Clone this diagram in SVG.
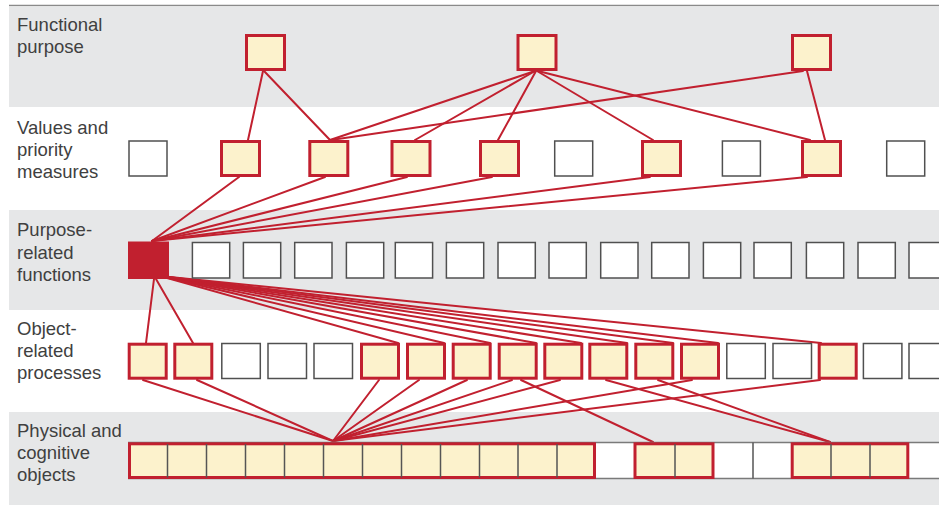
<svg xmlns="http://www.w3.org/2000/svg" width="939" height="505" viewBox="0 0 939 505">
  <style>
    .band { fill: #e6e7e8; }
    .lbl { font-family: "Liberation Sans", Arial, sans-serif; font-size: 18.5px; fill: #404040; }
    .y { fill: #fcf2cc; stroke: #c1202f; stroke-width: 3; }
    .w { fill: #ffffff; stroke: #505050; stroke-width: 1.5; }
    .div { stroke: #555555; stroke-width: 1.5; }
    .c line { stroke: #c1202f; stroke-width: 2; stroke-linecap: round; }
  </style>

  <!-- level bands -->
  <g id="bands">
    <line x1="9" y1="5.5" x2="939" y2="5.5" stroke="#8a8a8a" stroke-width="1.5"/>
    <rect class="band" x="9" y="6.5" width="930" height="100.5"/>
    <rect class="band" x="9" y="210" width="930" height="100"/>
    <rect class="band" x="9" y="412" width="930" height="93"/>
  </g>

  <!-- level labels -->
  <g id="labels">
    <text class="lbl" x="17" y="30.5">Functional</text>
    <text class="lbl" x="17" y="52.5">purpose</text>
    <text class="lbl" x="17" y="133.5">Values and</text>
    <text class="lbl" x="17" y="155.5">priority</text>
    <text class="lbl" x="17" y="177.5">measures</text>
    <text class="lbl" x="17" y="236">Purpose-</text>
    <text class="lbl" x="17" y="258.5">related</text>
    <text class="lbl" x="17" y="281">functions</text>
    <text class="lbl" x="17" y="335">Object-</text>
    <text class="lbl" x="17" y="357">related</text>
    <text class="lbl" x="17" y="379">processes</text>
    <text class="lbl" x="17" y="436.5">Physical and</text>
    <text class="lbl" x="17" y="458.5">cognitive</text>
    <text class="lbl" x="17" y="480.5">objects</text>
  </g>

  <!-- connectors between levels -->
  <g id="connectors" class="c">
    <!-- functional purpose to values -->
    <line x1="263" y1="71" x2="248" y2="140"/>
    <line x1="264" y1="71" x2="330" y2="140"/>
    <line x1="535" y1="71" x2="330" y2="140"/>
    <line x1="535" y1="71" x2="415" y2="140"/>
    <line x1="536" y1="71" x2="498" y2="140"/>
    <line x1="537" y1="71" x2="653" y2="140"/>
    <line x1="538" y1="71" x2="810" y2="140"/>
    <line x1="803" y1="71" x2="331" y2="140"/>
    <line x1="807" y1="71" x2="825" y2="140"/>
    <!-- values to purpose-related function -->
    <line x1="239" y1="177" x2="152" y2="241"/>
    <line x1="325" y1="177" x2="152" y2="241"/>
    <line x1="407" y1="177" x2="152" y2="241"/>
    <line x1="492" y1="177" x2="152" y2="241"/>
    <line x1="650" y1="177" x2="152" y2="241"/>
    <line x1="807" y1="177" x2="152" y2="241"/>
    <!-- purpose-related function to processes -->
    <line x1="154" y1="279" x2="146" y2="343"/>
    <line x1="156" y1="279" x2="193" y2="343"/>
    <line x1="160" y1="276" x2="398" y2="343"/>
    <line x1="160" y1="276" x2="444" y2="343"/>
    <line x1="160" y1="276" x2="490" y2="343"/>
    <line x1="160" y1="276" x2="536" y2="343"/>
    <line x1="160" y1="276" x2="581" y2="343"/>
    <line x1="160" y1="276" x2="627" y2="343"/>
    <line x1="160" y1="276" x2="673" y2="343"/>
    <line x1="160" y1="276" x2="718" y2="343"/>
    <line x1="160" y1="276" x2="821" y2="343"/>
    <!-- processes to objects -->
    <line x1="143" y1="380" x2="333" y2="441"/>
    <line x1="197" y1="380" x2="333" y2="441"/>
    <line x1="379" y1="380" x2="333" y2="441"/>
    <line x1="419" y1="380" x2="333" y2="441"/>
    <line x1="467" y1="380" x2="333" y2="441"/>
    <line x1="512" y1="380" x2="333" y2="441"/>
    <line x1="521" y1="380" x2="653" y2="442"/>
    <line x1="560" y1="380" x2="333" y2="441"/>
    <line x1="606" y1="380" x2="830" y2="442"/>
    <line x1="658" y1="380" x2="830" y2="442"/>
    <line x1="692" y1="380" x2="333" y2="441"/>
    <line x1="820" y1="380" x2="333" y2="441"/>
  </g>

  <!-- functional purpose -->
  <g id="fp-1"><rect class="y" x="246.5" y="35.5" width="38" height="34"/></g>
  <g id="fp-2"><rect class="y" x="518" y="35.5" width="38" height="34"/></g>
  <g id="fp-3"><rect class="y" x="792.5" y="35.5" width="38" height="34"/></g>

  <!-- values and priority measures -->
  <g id="vp-1"><rect class="w" x="129" y="141" width="38" height="35"/></g>
  <g id="vp-2"><rect class="y" x="221.5" y="141.5" width="38" height="34"/></g>
  <g id="vp-3"><rect class="y" x="309.8" y="141.5" width="38" height="34"/></g>
  <g id="vp-4"><rect class="y" x="392" y="141.5" width="38" height="34"/></g>
  <g id="vp-5"><rect class="y" x="480.5" y="141.5" width="38" height="34"/></g>
  <g id="vp-6"><rect class="w" x="554.7" y="141" width="38" height="35"/></g>
  <g id="vp-7"><rect class="y" x="642.5" y="141.5" width="38" height="34"/></g>
  <g id="vp-8"><rect class="w" x="722.4" y="141" width="38" height="35"/></g>
  <g id="vp-9"><rect class="y" x="802.5" y="141.5" width="38" height="34"/></g>
  <g id="vp-10"><rect class="w" x="886.7" y="141" width="38" height="35"/></g>

  <!-- purpose-related functions -->
  <g id="pf-1"><rect x="128" y="241.5" width="41" height="37.5" fill="#c1202f"/></g>
  <g id="pf-2"><rect class="w" x="192.4" y="242.5" width="37.3" height="35.5"/></g>
  <g id="pf-3"><rect class="w" x="243.4" y="242.5" width="37.3" height="35.5"/></g>
  <g id="pf-4"><rect class="w" x="294.7" y="242.5" width="37.3" height="35.5"/></g>
  <g id="pf-5"><rect class="w" x="346.4" y="242.5" width="37.3" height="35.5"/></g>
  <g id="pf-6"><rect class="w" x="395.3" y="242.5" width="37.3" height="35.5"/></g>
  <g id="pf-7"><rect class="w" x="446.4" y="242.5" width="37.3" height="35.5"/></g>
  <g id="pf-8"><rect class="w" x="498" y="242.5" width="37.3" height="35.5"/></g>
  <g id="pf-9"><rect class="w" x="549" y="242.5" width="37.3" height="35.5"/></g>
  <g id="pf-10"><rect class="w" x="600.7" y="242.5" width="37.3" height="35.5"/></g>
  <g id="pf-11"><rect class="w" x="651.7" y="242.5" width="37.3" height="35.5"/></g>
  <g id="pf-12"><rect class="w" x="703.4" y="242.5" width="37.3" height="35.5"/></g>
  <g id="pf-13"><rect class="w" x="754" y="242.5" width="37.3" height="35.5"/></g>
  <g id="pf-14"><rect class="w" x="806.4" y="242.5" width="37.3" height="35.5"/></g>
  <g id="pf-15"><rect class="w" x="858" y="242.5" width="37.3" height="35.5"/></g>
  <g id="pf-16"><rect class="w" x="909" y="242.5" width="37.3" height="35.5"/></g>

  <!-- object-related processes -->
  <g id="op-1"><rect class="y" x="129.2" y="344.2" width="37" height="34"/></g>
  <g id="op-2"><rect class="y" x="174.8" y="344.2" width="37" height="34"/></g>
  <g id="op-3"><rect class="w" x="221.8" y="343.5" width="38.5" height="35"/></g>
  <g id="op-4"><rect class="w" x="268" y="343.5" width="38.5" height="35"/></g>
  <g id="op-5"><rect class="w" x="314" y="343.5" width="38.5" height="35"/></g>
  <g id="op-6"><rect class="y" x="361.5" y="344.2" width="37" height="34"/></g>
  <g id="op-7"><rect class="y" x="407.5" y="344.2" width="37" height="34"/></g>
  <g id="op-8"><rect class="y" x="453.2" y="344.2" width="37" height="34"/></g>
  <g id="op-9"><rect class="y" x="499.2" y="344.2" width="37" height="34"/></g>
  <g id="op-10"><rect class="y" x="544.8" y="344.2" width="37" height="34"/></g>
  <g id="op-11"><rect class="y" x="589.8" y="344.2" width="37" height="34"/></g>
  <g id="op-12"><rect class="y" x="635.8" y="344.2" width="37" height="34"/></g>
  <g id="op-13"><rect class="y" x="681.5" y="344.2" width="37" height="34"/></g>
  <g id="op-14"><rect class="w" x="726.8" y="343.5" width="38.5" height="35"/></g>
  <g id="op-15"><rect class="w" x="773" y="343.5" width="38.5" height="35"/></g>
  <g id="op-16"><rect class="y" x="819.2" y="344.2" width="37" height="34"/></g>
  <g id="op-17"><rect class="w" x="863.4" y="343.5" width="38.5" height="35"/></g>
  <g id="op-18"><rect class="w" x="909" y="343.5" width="38.5" height="35"/></g>

  <!-- physical and cognitive objects: one strip of cells -->
  <g id="objects-strip">
    <rect x="128" y="442.5" width="820" height="36" fill="#ffffff"/>
    <line x1="128" y1="442.5" x2="939" y2="442.5" stroke="#7a7a7a" stroke-width="1.5"/>
    <line x1="128" y1="478.5" x2="939" y2="478.5" stroke="#7a7a7a" stroke-width="1.5"/>
    <line class="div" x1="753" y1="442.5" x2="753" y2="478.5"/>
  </g>
  <g id="objects-a">
    <rect class="y" x="129.5" y="443.8" width="465" height="33.7"/>
    <g class="div">
      <line x1="167.5" y1="444" x2="167.5" y2="477.5"/>
      <line x1="206.5" y1="444" x2="206.5" y2="477.5"/>
      <line x1="245.5" y1="444" x2="245.5" y2="477.5"/>
      <line x1="284.5" y1="444" x2="284.5" y2="477.5"/>
      <line x1="323.5" y1="444" x2="323.5" y2="477.5"/>
      <line x1="362.5" y1="444" x2="362.5" y2="477.5"/>
      <line x1="401.5" y1="444" x2="401.5" y2="477.5"/>
      <line x1="440.5" y1="444" x2="440.5" y2="477.5"/>
      <line x1="479.5" y1="444" x2="479.5" y2="477.5"/>
      <line x1="518" y1="444" x2="518" y2="477.5"/>
      <line x1="557" y1="444" x2="557" y2="477.5"/>
    </g>
  </g>
  <g id="objects-b">
    <rect class="y" x="635" y="443.8" width="78" height="33.7"/>
    <line class="div" x1="675" y1="444" x2="675" y2="477.5"/>
  </g>
  <g id="objects-c">
    <rect class="y" x="792.2" y="443.8" width="115.6" height="33.7"/>
    <g class="div">
      <line x1="831" y1="444" x2="831" y2="477.5"/>
      <line x1="870" y1="444" x2="870" y2="477.5"/>
    </g>
  </g>
</svg>
